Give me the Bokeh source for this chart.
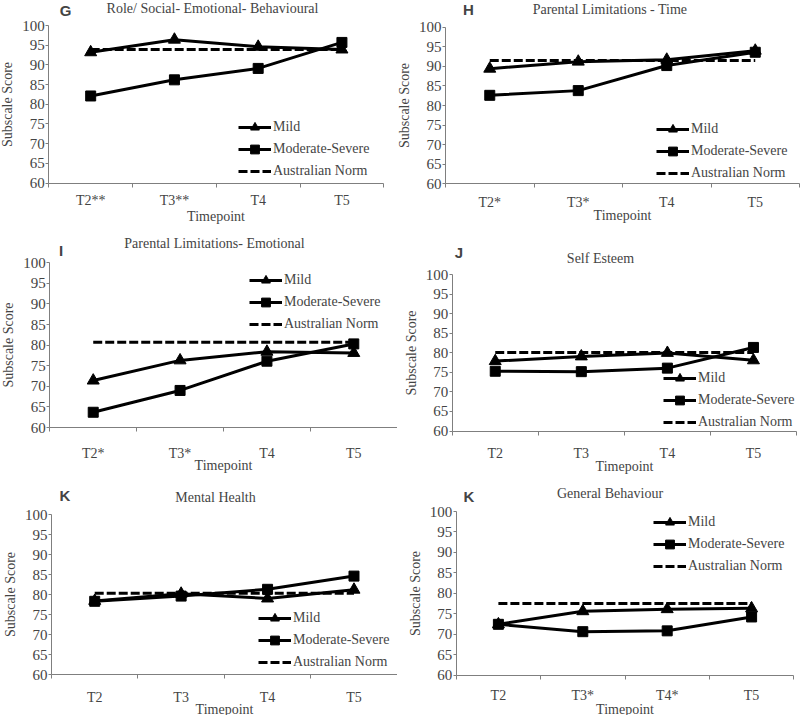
from bokeh.plotting import figure
from bokeh.models import Range1d, LinearAxis, FixedTicker, Legend, LegendItem, Label
from bokeh.layouts import column, row
from bokeh.embed import file_html
from bokeh.resources import INLINE

# ---------------- data ----------------
series_names = ["Mild", "Moderate-Severe", "Australian Norm"]
y_ticks = [60, 65, 70, 75, 80, 85, 90, 95, 100]

cats_G = ["T2**", "T3**", "T4", "T5"]
mild_G = [93.2, 96.4, 94.6, 93.9]
mod_G = [82.1, 86.2, 89.1, 95.7]
norm_G = [93.9, 93.9, 93.9, 93.9]

cats_H = ["T2*", "T3*", "T4", "T5"]
mild_H = [89.4, 91.2, 91.7, 94.0]
mod_H = [82.6, 83.8, 90.2, 93.6]
norm_H = [91.5, 91.5, 91.5, 91.5]

cats_I = ["T2*", "T3*", "T4", "T5"]
mild_I = [71.4, 76.3, 78.4, 78.1]
mod_I = [63.7, 69.0, 76.1, 80.3]
norm_I = [80.7, 80.7, 80.7, 80.7]

cats_J = ["T2", "T3", "T4", "T5"]
mild_J = [77.9, 79.1, 80.0, 78.1]
mod_J = [75.3, 75.2, 76.1, 81.4]
norm_J = [80.1, 80.1, 80.1, 80.1]

cats_K1 = ["T2", "T3", "T4", "T5"]
mild_K1 = [78.4, 80.2, 79.0, 81.2]
mod_K1 = [78.3, 79.6, 81.3, 84.6]
norm_K1 = [80.3, 80.3, 80.3, 80.3]

cats_K2 = ["T2", "T3*", "T4*", "T5"]
mild_K2 = [72.4, 75.6, 76.1, 76.3]
mod_K2 = [72.4, 70.6, 70.8, 74.2]
norm_K2 = [77.5, 77.5, 77.5, 77.5]

# ---------------- styling / layout ----------------
SERIF = "Liberation Serif"
SANS = "Liberation Sans"
AX = "#7f7f7f"
FS = "14px"


def panel(letter, title, cats, mild, mod, norm, fig, area, tick_std, lab_std,
          title_xy, letter_xy, legend_xy):
    fx, fy, fw, fh = fig          # figure box on the page
    x0, x1, yt, yb = area         # plot area (category span, 100..60) on the page
    n = len(cats)
    ylo, yhi = y_ticks[0], y_ticks[-1]
    ppx = (x1 - x0) / n
    ppy = (yb - yt) / (yhi - ylo)
    xr = Range1d(-0.5 - (x0 - fx) / ppx, n - 0.5 + (fx + fw - x1) / ppx)
    yr = Range1d(ylo - (fy + fh - yb) / ppy, yhi + (yt - fy) / ppy)

    p = figure(width=fw, height=fh, output_backend="svg",
               toolbar_location=None, title=None,
               x_range=xr, y_range=yr,
               x_axis_type=None, y_axis_type=None,
               min_border_left=0, min_border_right=0,
               min_border_top=0, min_border_bottom=0)
    p.outline_line_color = None
    p.background_fill_color = "white"
    p.border_fill_color = "white"

    yax = LinearAxis(ticker=FixedTicker(ticks=y_ticks), fixed_location=-0.5,
                     bounds=(ylo, yhi),
                     axis_label="Subscale Score",
                     axis_label_text_font=SERIF, axis_label_text_font_size=FS,
                     axis_label_text_font_style="normal", axis_label_standoff=4,
                     major_label_text_font=SERIF, major_label_text_font_size="15px",
                     major_label_standoff=1, major_tick_in=0, major_tick_out=3,
                     major_tick_line_color=AX, minor_tick_line_color=None,
                     axis_line_color=AX)
    p.add_layout(yax, "left")

    xs = list(range(n))
    xax = LinearAxis(ticker=FixedTicker(ticks=xs, minor_ticks=[i - 0.5 for i in range(n + 1)]),
                     fixed_location=ylo, bounds=(-0.5, n - 0.5),
                     major_label_overrides={i: c for i, c in enumerate(cats)},
                     axis_label="Timepoint",
                     axis_label_text_font=SERIF, axis_label_text_font_size=FS,
                     axis_label_text_font_style="normal", axis_label_standoff=lab_std,
                     major_label_text_font=SERIF, major_label_text_font_size=FS,
                     major_label_standoff=tick_std,
                     major_tick_in=0, major_tick_out=0, major_tick_line_color=None,
                     minor_tick_in=0, minor_tick_out=4, minor_tick_line_color=AX,
                     axis_line_color=AX)
    p.add_layout(xax, "below")

    l1 = p.line(xs, mild, line_color="black", line_width=3)
    s1 = p.scatter(xs, mild, marker="triangle", size=12, fill_color="black", line_color="black")
    l2 = p.line(xs, mod, line_color="black", line_width=3)
    s2 = p.scatter(xs, mod, marker="square", size=10, fill_color="black", line_color="black")
    l3 = p.line(xs, norm, line_color="black", line_width=3, line_dash="9 3")

    legend = Legend(items=[LegendItem(label=series_names[0], renderers=[l1, s1]),
                           LegendItem(label=series_names[1], renderers=[l2, s2]),
                           LegendItem(label=series_names[2], renderers=[l3])],
                    location=legend_xy, border_line_color=None,
                    background_fill_alpha=0, padding=0, margin=0, spacing=0,
                    glyph_width=33, glyph_height=22, label_height=22,
                    label_standoff=2, label_text_font=SERIF, label_text_font_size=FS)
    p.add_layout(legend)

    p.add_layout(Label(x=title_xy[0], y=title_xy[1], x_units="screen", y_units="screen",
                       text=title, text_font=SERIF, text_font_size=FS,
                       text_align="center", text_baseline="middle"))
    p.add_layout(Label(x=letter_xy[0], y=letter_xy[1], x_units="screen", y_units="screen",
                       text=letter, text_font=SANS, text_font_size="15px",
                       text_font_style="bold", text_align="center", text_baseline="middle"))
    return p


LW, RW = 397, 403
H0, H1, H2 = 236, 240, 239

pG = panel("G", "Role/ Social- Emotional- Behavioural", cats_G, mild_G, mod_G, norm_G,
           (0, 0, LW, H0), (48.3, 383.3, 25, 182.5), 6, -3,
           (212, 228), (65, 226), (238, 54))
pH = panel("H", "Parental Limitations - Time", cats_H, mild_H, mod_H, norm_H,
           (LW, 0, RW, H0), (445, 799, 26.7, 183.3), 7, -5,
           (212.5, 227), (71, 227), (259, 52))
pI = panel("I", "Parental Limitations- Emotional", cats_I, mild_I, mod_I, norm_I,
           (0, H0, LW, H1), (49.3, 396.7, 262.3, 427), 14, -6,
           (214, 233), (60.5, 226), (249, 141))
pJ = panel("J", "Self Esteem", cats_J, mild_J, mod_J, norm_J,
           (LW, H0, RW, H1), (451.7, 796, 274.3, 430.5), 11, -6,
           (203, 218), (61.5, 224), (266, 43))
pK1 = panel("K", "Mental Health", cats_K1, mild_K1, mod_K1, norm_K1,
            (0, H0 + H1, LW, H2), (51, 396.7, 514, 674), 11, -6,
            (215, 218), (64.5, 220), (258, 42))
pK2 = panel("K", "General Behaviour", cats_K2, mild_K2, mod_K2, norm_K2,
            (LW, H0 + H1, RW, H2), (455.7, 793.3, 511, 674.5), 9, -5,
            (212.5, 222), (71.5, 219), (256, 138))

layout = column(row(pG, pH), row(pI, pJ), row(pK1, pK2))
open("out.html", "w").write(file_html(layout, INLINE))
